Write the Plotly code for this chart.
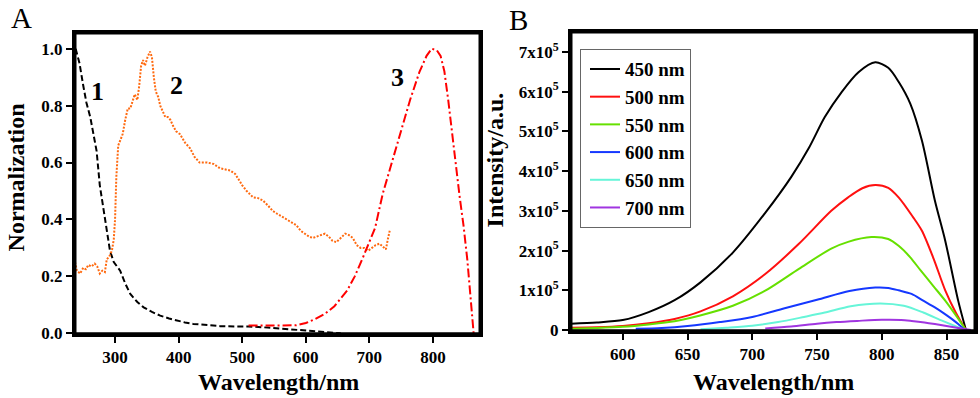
import plotly.graph_objects as go

# ---------------- Panel A data ----------------
a_x1 = [238, 244, 250, 255, 261, 266, 271, 276, 281, 287, 292, 298, 308, 316, 324, 335, 345, 358, 371, 385,
        397, 410, 423, 445, 465, 490, 510, 540, 570, 600, 630, 655]
a_y1 = [1.0, 0.95, 0.87, 0.81, 0.76, 0.70, 0.64, 0.52, 0.45, 0.35, 0.29, 0.25, 0.22, 0.175, 0.138, 0.11,
        0.091, 0.075, 0.062, 0.052, 0.045, 0.038, 0.033, 0.028, 0.025, 0.024, 0.024, 0.02, 0.015, 0.008,
        0.003, 0.0]

a_x2 = [237, 240, 245, 250, 254, 258, 263, 268, 272, 276, 280, 284, 287, 291, 295, 298, 300, 302, 305, 309,
        312, 316, 320, 324, 328, 331, 335, 338, 341, 344, 347, 351, 355, 358, 361, 364, 368, 371, 375, 379,
        383, 387, 391, 396, 402, 410, 418, 425, 433, 445, 455, 465, 475, 481, 489, 500, 507, 517, 525, 533,
        540, 548, 555, 562, 570, 578, 585, 592, 598, 605, 611, 617, 623, 630, 636, 642, 648, 655, 662, 668,
        674, 680, 686, 692, 698, 704, 710, 716, 721, 726, 729, 732]
a_y2 = [0.25, 0.22, 0.21, 0.23, 0.225, 0.24, 0.235, 0.245, 0.235, 0.21, 0.22, 0.215, 0.26, 0.27, 0.29, 0.33,
        0.40, 0.55, 0.66, 0.68, 0.70, 0.75, 0.79, 0.79, 0.82, 0.84, 0.82, 0.87, 0.94, 0.96, 0.94, 0.97, 0.99,
        0.97, 0.90, 0.85, 0.83, 0.80, 0.78, 0.76, 0.76, 0.75, 0.73, 0.71, 0.70, 0.67, 0.65, 0.62, 0.60, 0.60,
        0.595, 0.58, 0.575, 0.572, 0.56, 0.52, 0.50, 0.478, 0.475, 0.466, 0.45, 0.43, 0.42, 0.41, 0.40, 0.39,
        0.38, 0.36, 0.35, 0.34, 0.335, 0.34, 0.345, 0.35, 0.34, 0.325, 0.32, 0.335, 0.35, 0.345, 0.335, 0.31,
        0.30, 0.30, 0.29, 0.30, 0.31, 0.315, 0.305, 0.295, 0.33, 0.36]

a_x3 = [510, 530, 550, 570, 585, 600, 615, 630, 645, 665, 677, 690, 700, 709, 721, 737, 750, 764, 779, 790,
        798, 806, 812, 818, 824, 830, 836, 842, 848, 854, 859, 864]
a_y3 = [0.027, 0.027, 0.026, 0.026, 0.028, 0.036, 0.05, 0.068, 0.095, 0.15, 0.2, 0.267, 0.32, 0.37, 0.49,
        0.61, 0.71, 0.82, 0.92, 0.975, 1.0, 0.995, 0.975, 0.92, 0.82, 0.70, 0.60, 0.48, 0.38, 0.26, 0.13, 0.0]

a_xticks = [300, 400, 500, 600, 700, 800]
a_xminor = [250, 350, 450, 550, 650, 750, 850]
a_yticks = [0.0, 0.2, 0.4, 0.6, 0.8, 1.0]
a_yminor = [0.1, 0.3, 0.5, 0.7, 0.9]

# ---------------- Panel B data ----------------
b_names = ["450 nm", "500 nm", "550 nm", "600 nm", "650 nm", "700 nm"]
b_colors = ["#000000", "#FF1010", "#66E000", "#1538FF", "#66F5D8", "#A035E0"]

b_x450 = [560, 580, 600, 620, 640, 660, 685, 710, 730, 744, 756, 769, 782, 795, 805, 813, 822, 831, 841,
          849, 859, 865]
b_y450 = [0.16e5, 0.19e5, 0.25e5, 0.45e5, 0.75e5, 1.2e5, 1.95e5, 2.95e5, 3.85e5, 4.6e5, 5.36e5, 5.99e5,
          6.49e5, 6.74e5, 6.6e5, 6.25e5, 5.7e5, 4.77e5, 3.26e5, 2.25e5, 0.74e5, 0.0]

b_x500 = [560, 580, 600, 620, 640, 660, 685, 710, 736, 761, 774, 785, 795, 805, 813, 824, 831, 840, 849,
          857, 865]
b_y500 = [0.06e5, 0.07e5, 0.1e5, 0.17e5, 0.28e5, 0.47e5, 0.85e5, 1.41e5, 2.17e5, 3.0e5, 3.34e5, 3.57e5,
          3.65e5, 3.58e5, 3.34e5, 2.85e5, 2.5e5, 1.8e5, 1.0e5, 0.45e5, 0.0]

b_x550 = [560, 580, 600, 620, 640, 659, 685, 710, 736, 761, 774, 792, 805, 813, 822, 830, 840, 849, 857, 865]
b_y550 = [0.03e5, 0.05e5, 0.08e5, 0.14e5, 0.22e5, 0.36e5, 0.61e5, 0.99e5, 1.54e5, 2.05e5, 2.22e5, 2.34e5,
          2.29e5, 2.12e5, 1.83e5, 1.5e5, 1.1e5, 0.74e5, 0.38e5, 0.0]

b_x600 = [610, 630, 650, 675, 700, 725, 750, 775, 795, 805, 813, 823, 832, 841, 848, 854, 859, 864]
b_y600 = [0.03e5, 0.05e5, 0.1e5, 0.2e5, 0.33e5, 0.55e5, 0.76e5, 0.98e5, 1.07e5, 1.06e5, 1.0e5, 0.91e5,
          0.74e5, 0.57e5, 0.42e5, 0.28e5, 0.15e5, 0.0]

b_x650 = [660, 680, 700, 720, 740, 756, 776, 799, 817, 832, 847, 864]
b_y650 = [0.02e5, 0.06e5, 0.11e5, 0.2e5, 0.33e5, 0.44e5, 0.6e5, 0.67e5, 0.61e5, 0.44e5, 0.23e5, 0.0]

b_x700 = [710, 730, 750, 765, 781, 800, 815, 823, 833, 841, 850, 859, 869]
b_y700 = [0.04e5, 0.09e5, 0.16e5, 0.2e5, 0.23e5, 0.26e5, 0.255e5, 0.23e5, 0.19e5, 0.15e5, 0.1e5, 0.05e5, 0.0]

b_xticks = [600, 650, 700, 750, 800, 850]
b_xminor = [575, 625, 675, 725, 775, 825]
b_yticks = [0, 1e5, 2e5, 3e5, 4e5, 5e5, 6e5, 7e5]
b_yminor = [0.5e5, 1.5e5, 2.5e5, 3.5e5, 4.5e5, 5.5e5, 6.5e5, 7.5e5]
b_yticktext = ["0"] + ["%dx10<sup>5</sup>" % i for i in range(1, 8)]

# ---------------- Figure ----------------
W = 980
REF_H = 398
FIG_H = 408
FONT = "Liberation Serif"

A_XRANGE = [237, 874]
A_YRANGE = [-0.002, 1.055]
B_XRANGE = [560, 872]
B_YRANGE = [-2000, 7.5e5]


def px(x):
    return x / W


def py(y):
    return 1 - y / REF_H


fig = go.Figure()

fig.add_trace(go.Scatter(x=a_x1, y=a_y1, mode="lines", line=dict(color="#000000", width=2, dash="6px,3px"),
                         showlegend=False, xaxis="x", yaxis="y"))
fig.add_trace(go.Scatter(x=a_x2, y=a_y2, mode="lines", line=dict(color="#FF6A10", width=2, dash="2px,1.5px"),
                         showlegend=False, xaxis="x", yaxis="y"))
fig.add_trace(go.Scatter(x=a_x3, y=a_y3, mode="lines",
                         line=dict(color="#FF0000", width=2, dash="9px,3px,2px,3px"),
                         showlegend=False, xaxis="x", yaxis="y"))

b_xs = [b_x450, b_x500, b_x550, b_x600, b_x650, b_x700]
b_ys = [b_y450, b_y500, b_y550, b_y600, b_y650, b_y700]
for name, col, xs, ys in zip(b_names, b_colors, b_xs, b_ys):
    fig.add_trace(go.Scatter(x=xs, y=ys, mode="lines", name=name,
                             line=dict(color=col, width=2, shape="spline", smoothing=0.8),
                             xaxis="x2", yaxis="y2"))

tickfont = dict(family=FONT, size=17, color="black", weight="bold")
axis_common = dict(showline=True, linecolor="black", linewidth=3, mirror=True, ticks="outside",
                   ticklen=6, tickwidth=2, tickcolor="black", showgrid=False, zeroline=False,
                   tickfont=tickfont)
minor_axis = dict(showline=False, ticks="outside", ticklen=3, tickwidth=2, tickcolor="black",
                  showgrid=False, zeroline=False, showticklabels=False)

fig.update_layout(
    width=W, height=FIG_H,
    margin=dict(l=0, r=0, t=0, b=0),
    paper_bgcolor="white", plot_bgcolor="white",
    xaxis=dict(domain=[px(75), px(480)], range=A_XRANGE, tickvals=a_xticks, anchor="y", **axis_common),
    yaxis=dict(domain=[py(333), py(33)], range=A_YRANGE, tickvals=a_yticks, tickformat=".1f",
               anchor="x", **axis_common),
    xaxis2=dict(domain=[px(571), px(975)], range=B_XRANGE, tickvals=b_xticks, anchor="y2", **axis_common),
    yaxis2=dict(domain=[py(330), py(32)], range=B_YRANGE, tickvals=b_yticks, ticktext=b_yticktext,
                anchor="x2", **axis_common),
    xaxis3=dict(overlaying="x", anchor="y", range=A_XRANGE, tickvals=a_xminor, **minor_axis),
    yaxis3=dict(overlaying="y", anchor="x", range=A_YRANGE, tickvals=a_yminor, **minor_axis),
    xaxis4=dict(overlaying="x2", anchor="y2", range=B_XRANGE, tickvals=b_xminor, **minor_axis),
    yaxis4=dict(overlaying="y2", anchor="x2", range=B_YRANGE, tickvals=b_yminor, **minor_axis),
    legend=dict(x=px(580), y=py(49), xanchor="left", yanchor="top", bgcolor="white",
                bordercolor="#666666", borderwidth=1, indentation=4,
                font=dict(family=FONT, size=19, color="black", weight="bold")),
)

# frame boxes around both plot areas
for xr, yr in [("x domain", "y domain"), ("x2 domain", "y2 domain")]:
    fig.add_shape(type="rect", xref=xr, yref=yr, x0=0, x1=1, y0=0, y1=1,
                  line=dict(color="black", width=3), fillcolor="rgba(0,0,0,0)", layer="above")

ann = []
title_font = dict(family=FONT, size=24, color="black", weight="bold")
ann.append(dict(text="Wavelength/nm", x=px(278), y=py(381), xref="paper", yref="paper", showarrow=False,
                font=title_font, xanchor="center", yanchor="middle"))
ann.append(dict(text="Wavelength/nm", x=px(773), y=py(381), xref="paper", yref="paper", showarrow=False,
                font=title_font, xanchor="center", yanchor="middle"))
ann.append(dict(text="Normalization", x=px(16), y=py(177), xref="paper", yref="paper", showarrow=False,
                font=title_font, textangle=-90, xanchor="center", yanchor="middle"))
ann.append(dict(text="Intensity/a.u.", x=px(495), y=py(159), xref="paper", yref="paper", showarrow=False,
                font=title_font, textangle=-90, xanchor="center", yanchor="middle"))
panel_font = dict(family=FONT, size=29, color="black")
ann.append(dict(text="A", x=px(21), y=py(18), xref="paper", yref="paper", showarrow=False,
                font=panel_font, xanchor="center", yanchor="middle"))
ann.append(dict(text="B", x=px(518), y=py(20), xref="paper", yref="paper", showarrow=False,
                font=panel_font, xanchor="center", yanchor="middle"))
num_font = dict(family=FONT, size=26, color="black", weight="bold")
for label, xv, yv in [("1", 273, 0.85), ("2", 397, 0.87), ("3", 745, 0.90)]:
    ann.append(dict(text=label, x=xv, y=yv, xref="x", yref="y", showarrow=False, font=num_font,
                    xanchor="center", yanchor="middle"))
fig.update_layout(annotations=ann)

fig.write_html("out.html", config={"displayModeBar": False},
               post_script="document.body.style.margin='0';document.body.style.overflow='hidden';")
